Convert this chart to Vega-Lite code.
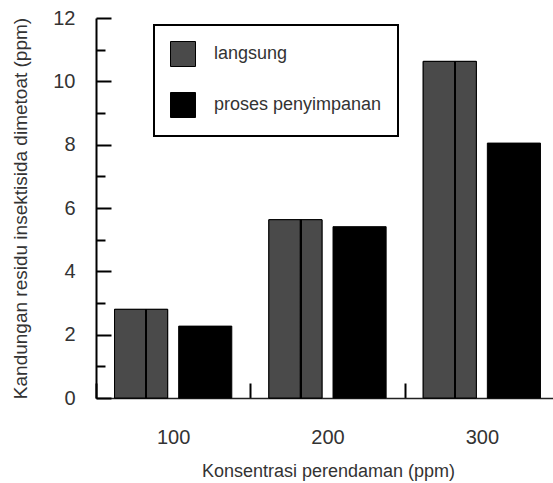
{
  "$schema": "https://vega.github.io/schema/vega-lite/v6.json",
  "autosize": {"type": "none"},
  "width": 457,
  "height": 380,
  "padding": {"left": 96, "top": 18, "right": 0, "bottom": 85},
  "background": "white",
  "config": {"view": {"stroke": null}, "font": "Liberation Sans"},
  "data": {
    "values": [
      {"konsentrasi": "100", "jenis": "langsung", "nilai": 2.8},
      {"konsentrasi": "100", "jenis": "proses penyimpanan", "nilai": 2.27},
      {"konsentrasi": "200", "jenis": "langsung", "nilai": 5.63},
      {"konsentrasi": "200", "jenis": "proses penyimpanan", "nilai": 5.41},
      {"konsentrasi": "300", "jenis": "langsung", "nilai": 10.63},
      {"konsentrasi": "300", "jenis": "proses penyimpanan", "nilai": 8.05}
    ]
  },
  "encoding": {
    "x": {
      "field": "konsentrasi",
      "type": "nominal",
      "sort": null,
      "scale": {"range": [0, 463], "paddingInner": 0, "paddingOuter": 0},
      "axis": {
        "title": "Konsentrasi perendaman (ppm)",
        "titleFontSize": 18,
        "titleFontWeight": "normal",
        "titleColor": "#333",
        "titleX": 232,
        "titleY": 78,
        "titleAlign": "center",
        "titleBaseline": "alphabetic",
        "labelAngle": 0,
        "labelFontSize": 20,
        "labelColor": "#333",
        "labelBaseline": "top",
        "labelPadding": 44,
        "tickBand": "extent",
        "tickSize": -15,
        "tickWidth": 2,
        "tickColor": "black",
        "domainColor": "#222",
        "domainWidth": 1.5,
        "grid": false
      }
    },
    "xOffset": {
      "field": "jenis",
      "type": "nominal",
      "scale": {"domain": ["langsung", "proses penyimpanan"], "paddingInner": 0.172, "paddingOuter": 0.289}
    }
  },
  "layer": [
    {
      "mark": {"type": "bar", "stroke": "black", "strokeWidth": 1},
      "encoding": {
        "y": {
          "field": "nilai",
          "type": "quantitative",
          "scale": {"domain": [0, 12], "nice": false},
          "axis": {
            "values": [0, 2, 4, 6, 8, 10, 12],
            "title": "Kandungan residu insektisida dimetoat (ppm)",
            "titleFontSize": 19,
            "titleFontWeight": "normal",
            "titleColor": "#333",
            "titleX": -76,
            "titleY": 190,
            "titleAngle": -90,
            "titleAlign": "center",
            "titleBaseline": "middle",
            "labelFontSize": 20,
            "labelColor": "#333",
            "labelPadding": 36,
            "tickSize": -15,
            "tickWidth": 2,
            "tickColor": "black",
            "domainColor": "black",
            "domainWidth": 2,
            "grid": false,
            "orient": "left"
          }
        },
        "color": {
          "field": "jenis",
          "type": "nominal",
          "scale": {"domain": ["langsung", "proses penyimpanan"], "range": ["#4a4a4a", "#000000"]},
          "legend": {
            "title": null,
            "orient": "none",
            "legendX": 58,
            "legendY": 7,
            "padding": 16,
            "rowPadding": 21,
            "labelOffset": 18,
            "symbolSize": 625,
            "symbolType": "square",
            "symbolStrokeColor": "black",
            "symbolStrokeWidth": 1,
            "labelFontSize": 18,
            "labelColor": "#333",
            "labelLimit": 300,
            "strokeColor": "black",
            "encode": {"legend": {"update": {"strokeWidth": {"value": 2}}}}
          }
        }
      }
    },
    {
      "transform": [{"filter": "datum.jenis === 'langsung'"}],
      "mark": {
        "type": "bar",
        "stroke": "black",
        "strokeWidth": 1,
        "fill": {
          "gradient": "linear",
          "x1": 0, "x2": 1, "y1": 0, "y2": 0,
          "stops": [
            {"offset": 0, "color": "#4a4a4a"},
            {"offset": 0.575, "color": "#4a4a4a"},
            {"offset": 0.58, "color": "#000000"},
            {"offset": 0.615, "color": "#000000"},
            {"offset": 0.62, "color": "#4a4a4a"},
            {"offset": 1, "color": "#4a4a4a"}
          ]
        }
      },
      "encoding": {
        "y": {
          "field": "nilai",
          "type": "quantitative",
          "axis": {
            "values": [1, 3, 5, 7, 9, 11],
            "title": null,
            "labels": false,
            "domain": false,
            "grid": false,
            "tickSize": -9,
            "tickWidth": 2,
            "tickColor": "black",
            "orient": "left"
          }
        }
      }
    }
  ],
  "resolve": {"axis": {"y": "independent"}}
}
